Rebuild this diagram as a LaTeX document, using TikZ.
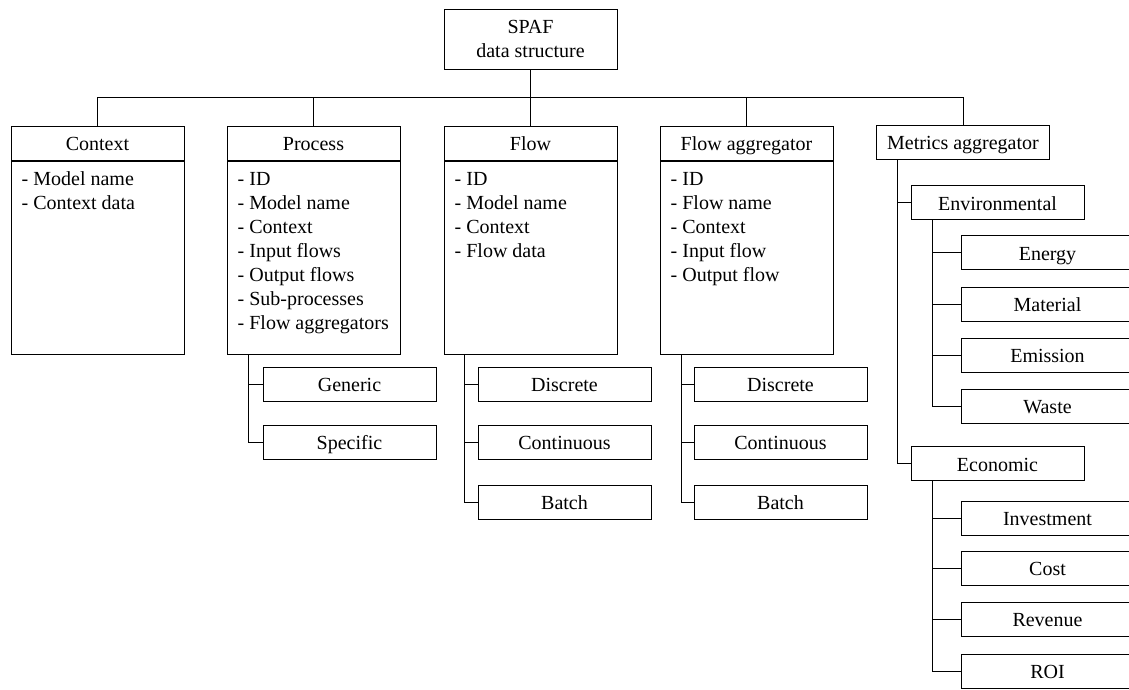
\documentclass[tikz,border=0pt]{standalone}
\usepackage{fontspec}
\setmainfont{Liberation Serif}
\usetikzlibrary{calc}
\begin{document}
\begin{tikzpicture}[x=1pt,y=-1pt,
  every node/.style={font=\fontsize{20}{24}\selectfont, inner sep=0pt},
  link/.style={line width=1pt, black},
  frame/.style={draw, line width=1pt, rectangle, minimum width=173pt, minimum height=34pt},
  cell/.style={frame, text height=18.5pt, text depth=3.5pt},
  bodycell/.style={draw, line width=1pt, rectangle, minimum width=173pt, minimum height=193pt},
  items/.style={anchor=base west}
]
\useasboundingbox (0,0) rectangle (1129,689);

% root
\node[frame, align=center, minimum height=60pt] (spaf) at (530.5,39) {SPAF\\data structure};

% main classes: header + attribute compartment
\node[cell] (ctx) at (97.5,143) {Context};
\node[bodycell, anchor=north] (ctxB) at (ctx.south) {};
\node[items] (ctxL) at ($(ctxB.north west)+(11,24.5)$)
  {\parbox[t]{160pt}{\raggedright - Model name\\- Context data}};

\node[cell] (proc) at (313.5,143) {Process};
\node[bodycell, anchor=north] (procB) at (proc.south) {};
\node[items] (procL) at ($(procB.north west)+(11,24.5)$)
  {\parbox[t]{160pt}{\raggedright - ID\\- Model name\\- Context\\- Input flows\\- Output flows\\- Sub-processes\\- Flow aggregators}};

\node[cell] (flow) at (530.5,143) {Flow};
\node[bodycell, anchor=north] (flowB) at (flow.south) {};
\node[items] (flowL) at ($(flowB.north west)+(11,24.5)$)
  {\parbox[t]{160pt}{\raggedright - ID\\- Model name\\- Context\\- Flow data}};

\node[cell] (fagg) at (746.5,143) {Flow aggregator};
\node[bodycell, anchor=north] (faggB) at (fagg.south) {};
\node[items] (faggL) at ($(faggB.north west)+(11,24.5)$)
  {\parbox[t]{160pt}{\raggedright - ID\\- Flow name\\- Context\\- Input flow\\- Output flow}};

\node[cell] (met) at (963,142) {Metrics aggregator};

% bus from the root
\coordinate (bus) at (530.5,97);
\draw[link] (spaf.south) -- (bus);
\foreach \n in {ctx,proc,flow,fagg,met}
  \draw[link] (\n.north) |- (bus);

% process types
\node[cell] (gen)  at (349.5,384) {Generic};
\node[cell] (spec) at (349.5,442) {Specific};
\foreach \n in {gen,spec}
  \draw[link] ($(procB.south west)+(22,0)$) |- (\n.west);

% flow types
\node[cell] (fdisc) at (564.5,384) {Discrete};
\node[cell] (fcont) at (564.5,442) {Continuous};
\node[cell] (fbat)  at (564.5,502) {Batch};
\foreach \n in {fdisc,fcont,fbat}
  \draw[link] ($(flowB.south west)+(21,0)$) |- (\n.west);

% flow aggregator types
\node[cell] (adisc) at (780.5,384) {Discrete};
\node[cell] (acont) at (780.5,442) {Continuous};
\node[cell] (abat)  at (780.5,502) {Batch};
\foreach \n in {adisc,acont,abat}
  \draw[link] ($(faggB.south west)+(22,0)$) |- (\n.west);

% metric groups
\node[cell] (env)  at (997.5,202.5) {Environmental};
\node[cell] (econ) at (997.5,463.5) {Economic};
\foreach \n in {env,econ}
  \draw[link] ($(met.south west)+(21.5,0)$) |- (\n.west);

% environmental metrics
\node[cell] (energy) at (1047.5,252.5) {Energy};
\node[cell] (mat)    at (1047.5,304) {Material};
\node[cell] (emis)   at (1047.5,355) {Emission};
\node[cell] (waste)  at (1047.5,406) {Waste};
\foreach \n in {energy,mat,emis,waste}
  \draw[link] ($(env.south west)+(22,0)$) |- (\n.west);

% economic metrics
\node[cell] (inv)  at (1047.5,518) {Investment};
\node[cell] (cost) at (1047.5,568) {Cost};
\node[cell] (rev)  at (1047.5,619) {Revenue};
\node[cell] (roi)  at (1047.5,671) {ROI};
\foreach \n in {inv,cost,rev,roi}
  \draw[link] ($(econ.south west)+(22,0)$) |- (\n.west);
\end{tikzpicture}
\end{document}
